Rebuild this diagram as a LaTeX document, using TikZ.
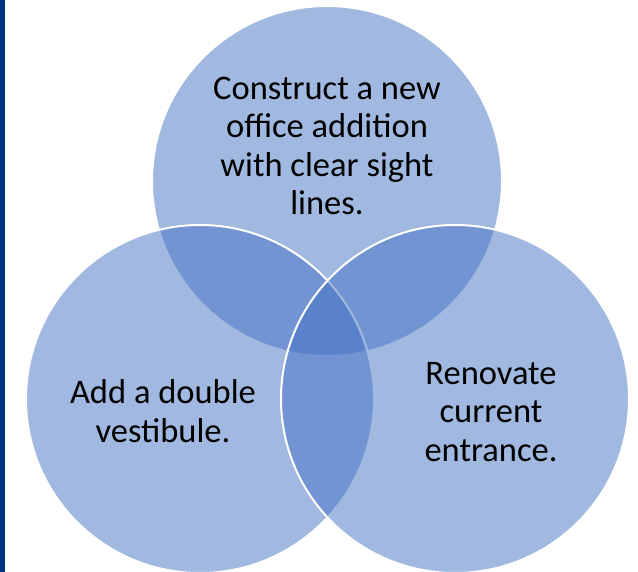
\documentclass[tikz,border=0pt]{standalone}
\usepackage{fontspec}
\setmainfont{Carlito}
\definecolor{vennfill}{HTML}{4472C4}
\definecolor{sidebar}{RGB}{0,51,128}
\begin{document}
\begin{tikzpicture}[x=1pt,y=-1pt,
  venn/.style={fill=vennfill,fill opacity=0.5,draw=white,line width=2pt},
  label/.style={align=center,font=\fontsize{34.5}{38.5}\selectfont,text=black}]
\useasboundingbox (0,0) rectangle (638,572);
\fill[white] (0,0) rectangle (638,572);
% thin bar on the left edge
\fill[sidebar] (0,0) rectangle (5,572);
% three overlapping circles
\path[venn] (327,181) circle[radius=175];
\path[venn] (200,399) circle[radius=174];
\path[venn] (455,399) circle[radius=174];
% circle captions
\node[label] (top) at (327,146) {Construct a new\\office addition\\with clear sight\\lines.};
\node[label] (left) at (163,411) {Add a double\\vestibule.};
\node[label] (right) at (491,412) {Renovate\\current\\entrance.};
\end{tikzpicture}
\end{document}
